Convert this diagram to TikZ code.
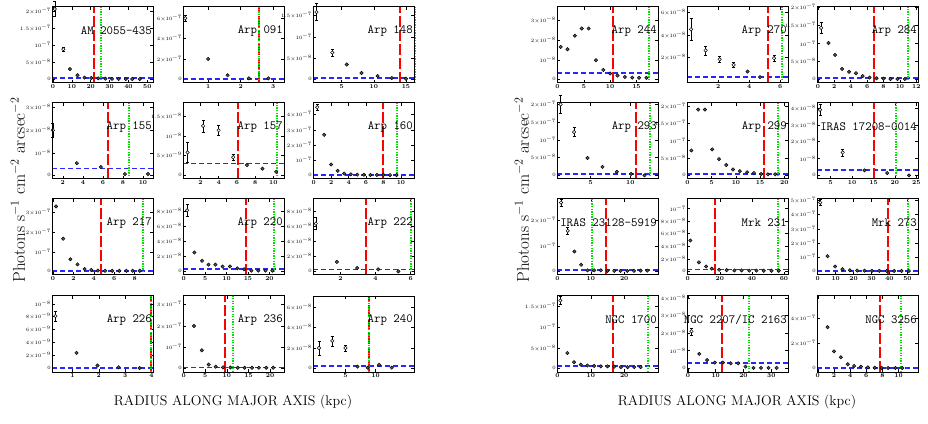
\documentclass[tikz,border=0pt]{standalone}
\usepackage{tikz}
\definecolor{lgreen}{RGB}{0,225,0}

% one panel: left, bottom, xmin, xmax, ymax
\newcommand\pnl[5]{%
  \def\pxa{#3}\def\pxb{#4}\def\pyt{#5}\pgfmathsetmacro\pyb{-0.05*#5}%
  \begin{scope}[shift={(#1,#2)},x={({101/((#4)-(#3))*1pt},0pt)},y={(0pt,{76/(1.05*(#5))*1pt})},shift={({-(#3)},{0.05*(#5)})}]}
\newcommand\pnlend{\draw[frm] (\pxa,\pyb) rectangle (\pxb,\pyt);\end{scope}}
\newcommand\xtk[1]{\foreach \v in {#1}{%
  \draw[tk] (\v,\pyb) -- ++(0pt,3pt); \draw[tk] (\v,\pyt) -- ++(0pt,-3pt);
  \node[xtl] at (\v,\pyb) {\v};}}
\newcommand\ytk[1]{\foreach \v/\l in {#1}{%
  \draw[tk] (\pxa,\v) -- ++(3pt,0pt); \draw[tk] (\pxb,\v) -- ++(-3pt,0pt);
  \node[ytl] at (\pxa,\v) {$\l$};}}
\newcommand\tenp[2]{#1{\times}10^{-#2}}
\newcommand\tenq[1]{10^{-#1}}
\newcommand\rdl[1]{\draw[redl] (#1,\pyb) -- (#1,\pyt);}
\newcommand\grl[1]{\draw[grnl] (#1,\pyb) -- (#1,\pyt);}
\newcommand\bll[1]{\draw[blul] (\pxa,#1) -- (\pxb,#1);}
\newcommand\pts[1]{\foreach \a/\b in {#1}{\draw[pt] (\a,\b) circle (1.7pt);}}
\newcommand\ebs[1]{\foreach \a/\b/\c in {#1}{%
  \draw[eb] ([xshift=-1.5pt]\a,\b-\c) -- ++(3pt,0pt) ([xshift=-1.5pt]\a,\b+\c) -- ++(3pt,0pt);
  \draw[eb] (\a,\b-\c) -- (\a,\b+\c);
  \draw[opt] (\a,\b) circle (1.7pt);}}
\newcommand\lab[2]{\node[lab] (#1) at (\pxb,\pyt) {#2};}

\begin{document}
\begin{tikzpicture}[x=1pt,y=1pt,
  frm/.style={line width=1pt},
  tk/.style={line width=0.5pt},
  xtl/.style={anchor=north,inner sep=1pt,font=\fontsize{6}{6}\selectfont\bfseries},
  ytl/.style={anchor=east,inner sep=1pt,font=\fontsize{5}{5}\selectfont},
  redl/.style={draw=red,line width=2pt,dash pattern=on 11pt off 3pt},
  grnl/.style={draw=lgreen,line width=2pt,dash pattern=on 1.3pt off 1.3pt},
  blul/.style={draw=blue!85,line width=1.8pt,dash pattern=on 5pt off 3pt},
  pt/.style={fill=black!65,draw=black,line width=0.5pt},
  opt/.style={fill=white,draw=black,line width=0.5pt},
  eb/.style={line width=0.5pt},
  lab/.style={anchor=east,xshift=-1pt,yshift=-24pt,inner sep=0pt,font=\fontsize{12.5}{12.5}\selectfont\ttfamily},
  ttl/.style={font=\fontsize{14}{14}\selectfont},
  ylb/.style={rotate=90,font=\fontsize{17}{17}\selectfont}]
\useasboundingbox (0,0) rectangle (928,423);

% ---- left block ----
\pnl{52}{340}{-0.5}{53}{21.1}
\xtk{0,10,20,30,40,50}\ytk{0/0,5/\tenp{5}{8},10/\tenq{7},15/\tenp{1.5}{7},20/\tenp{2}{7}}
\bll{0.4}\rdl{22}\grl{25.6}
\pts{9/3,13/1.2,16.7/0.5,20.3/0.4,24/0.3,27.8/0.2,31.3/0.15,34.8/0.1,38.6/0.1,42/0.1,46/0.1}
\ebs{1/20.5/2.2,5.5/8.8/0.6}
\lab{p1}{AM 2055-435}
\pnlend

\pnl{183}{340}{0.23}{3.33}{71}
\xtk{1,2,3}\ytk{0/0,20/\tenp{2}{7},40/\tenp{4}{7},60/\tenp{6}{7}}
\bll{0.5}\rdl{2.55}\grl{2.55}
\pts{1.0/20,1.6/4,2.25/1,2.85/1}
\ebs{0.3/60/3}
\lab{p2}{Arp 091}
\pnlend

\pnl{313}{340}{0.56}{16.25}{17}
\xtk{5,10,15}\ytk{0/0,5/\tenp{5}{8},10/\tenq{7},15/\tenp{1.5}{7}}
\bll{0.3}\rdl{14}\grl{16.4}
\pts{5.8/3.5,8.1/1.5,10.6/0.8,12.8/0.3,15/0.15}
\ebs{1.1/15.8/2,3.55/6.3/0.8}
\lab{p3}{Arp 148}
\pnlend

\pnl{52}{244}{0.92}{11}{32}
\xtk{2,4,6,8,10}\ytk{0/0,10/\tenq{8},20/\tenp{2}{8},30/\tenp{3}{8}}
\bll{3}\rdl{6.5}\grl{8.6}
\pts{3.4/5.4,5.8/3.7,8.2/0.6,10.5/0.6}
\ebs{1.0/20/3}
\lab{p4}{Arp 155}
\pnlend

\pnl{183}{244}{0.1}{11.16}{18.3}
\xtk{2,4,6,8,10}\ytk{0/0,5/\tenp{5}{9},10/\tenq{8},15/\tenp{1.5}{8}}
\bll{3}\rdl{6.1}\grl{10.4}
\pts{7.1/2.6,8.8/1.7,10.3/0.9}
\ebs{0.6/5.8/2.5,2.3/12.5/1.5,4.0/11.4/1.2,5.6/4.6/0.7}
\lab{p5}{Arp 157}
\pnlend

\pnl{313}{244}{-0.08}{11.5}{47.7}
\xtk{0,2,4,6,8,10}\ytk{0/0,10/\tenq{7},20/\tenp{2}{7},30/\tenp{3}{7},40/\tenp{4}{7}}
\bll{0.5}\rdl{7.9}\grl{9.5}
\pts{1.2/26.7,2.0/7.2,2.75/3.0,3.5/1.2,4.25/0.7,5/0.5,5.75/0.4,6.5/0.3,7.25/0.3,8/0.3,8.75/0.2,9.5/0.2}
\ebs{0.4/44.9/2}
\lab{p6}{Arp 160}
\pnlend

\pnl{52}{148}{-0.1}{9.8}{37}
\xtk{0,2,4,6,8}\ytk{0/0,10/\tenq{7},20/\tenp{2}{7},30/\tenp{3}{7}}
\bll{0.3}\rdl{4.7}\grl{8.8}
\pts{0.3/33.2,1.0/16.7,1.7/6.2,2.4/3.6,3.1/1.2,3.75/0.7,4.4/0.4,5.1/0.3,5.8/0.3,6.5/0.3,7.2/0.3,7.8/0.3,8.5/0.3}
\lab{p7}{Arp 217}
\pnlend

\pnl{183}{148}{-0.15}{23.4}{96}
\xtk{0,5,10,15,20}\ytk{0/0,20/\tenp{2}{8},40/\tenp{4}{8},60/\tenp{6}{8},80/\tenp{8}{8}}
\bll{3}\rdl{14.6}\grl{21.1}
\pts{2.5/25,4.3/14,5.8/9,7.4/9,9.1/6.5,10.8/6.5,12.5/4,14.1/2.8,15.8/1,17.4/1,19.1/1,20.7/1}
\ebs{0.8/81/8}
\lab{p8}{Arp 220}
\pnlend

\pnl{313}{148}{0.44}{6.19}{97}
\xtk{2,4,6}\ytk{0/0,20/\tenp{2}{8},40/\tenp{4}{8},60/\tenp{6}{8},80/\tenp{8}{8}}
\bll{2.5}\rdl{3.47}\grl{6.0}
\pts{1.8/12.7,2.95/4.5,4.15/2.7,5.3/0}
\ebs{0.6/64/8}
\lab{p9}{Arp 222}
\pnlend

\pnl{52}{51}{0.22}{4.06}{11.2}
\xtk{1,2,3,4}\ytk{0/0,2/\tenp{2}{9},4/\tenp{4}{9},6/\tenp{6}{9},8/\tenp{8}{9},10/\tenq{8}}
\bll{0.1}\rdl{3.97}\grl{4.0}
\pts{1.15/2.4,1.95/0.45,2.75/0.17,3.55/0.05}
\ebs{0.35/8.1/0.8}
\lab{p10}{Arp 226}
\pnlend

\pnl{183}{51}{-0.15}{23.2}{34}
\xtk{0,5,10,15,20}\ytk{0/0,10/\tenq{7},20/\tenp{2}{7},30/\tenp{3}{7}}
\bll{0.4}\rdl{9.6}\grl{11.3}
\pts{2.4/19.9,4.2/8.5,5.8/1.8,7.4/0.8,9.1/0.5,10.8/0.4,12.5/0.3,14.1/0.3,15.8/0.3,17.4/0.3,19.1/0.3,20.7/0.3}
\lab{p11}{Arp 236}
\pnlend

\pnl{313}{51}{-0.4}{16.4}{71}
\xtk{5,10}\ytk{0/0,20/\tenp{2}{8},40/\tenp{4}{8},60/\tenp{6}{8}}
\bll{2.7}\rdl{8.9}\grl{8.9}
\pts{7.0/1.7,8.7/0.7,10.6/3.4,12.7/0.7}
\ebs{0.6/20/7,2.8/27/5,5.0/20/3}
\lab{p12}{Arp 240}
\pnlend

% ---- right block ----
\pnl{557}{340}{-0.1}{19.1}{37}
\xtk{0,5,10,15}\ytk{0/0,10/\tenq{8},20/\tenp{2}{8},30/\tenp{3}{8}}
\bll{3.3}\rdl{10.5}\grl{17.3}
\pts{0.6/16.6,1.9/15.4,3.3/22.3,4.6/26,5.9/26,7.3/9.8,8.7/4.8,10/3,11.4/2,12.8/1.2,14.2/0.9,15.5/0.8,16.9/0.8}
\lab{p13}{Arp 244}
\pnlend

\pnl{687}{340}{0}{6.5}{65}
\xtk{2,4,6}\ytk{20/\tenp{2}{8},40/\tenp{4}{8},60/\tenp{6}{8}}
\bll{1.8}\rdl{5.2}\grl{6.1}
\pts{3.9/7,4.7/2}
\ebs{0.26/45/10,1.2/26/4,2.1/18/3,3.0/13/2,5.6/19/3}
\lab{p14}{Arp 270}
\pnlend

\pnl{817}{340}{-0.1}{12.2}{20.1}
\xtk{0,2,4,6,8,10,12}\ytk{0/0,5/\tenp{5}{8},10/\tenq{7},15/\tenp{1.5}{7},20/\tenp{2}{7}}
\bll{0.3}\rdl{6.8}\grl{11}
\pts{1.3/10.1,2.1/6.8,2.95/2.9,3.8/2.1,4.65/1.7,5.45/0.9,6.3/0.5,7.15/0.3,8/0.2,8.85/0.1,9.7/0.1,10.6/0.1}
\ebs{0.4/14.3/1.5}
\lab{p15}{Arp 284}
\pnlend

\pnl{557}{244}{0.75}{13.5}{20.4}
\xtk{5,10}\ytk{0/0,5/\tenp{5}{8},10/\tenq{7},15/\tenp{1.5}{7},20/\tenp{2}{7}}
\bll{0.4}\rdl{10.75}\grl{12.5}
\pts{4.6/4.9,6.5/2.4,8.3/1,10.1/0.4,11.8/0}
\ebs{1.2/20/2.5,2.9/12.2/1.3}
\lab{p16}{Arp 293}
\pnlend

\pnl{687}{244}{-0.1}{20.75}{20.9}
\xtk{0,5,10,15,20}\ytk{0/0,5/\tenp{5}{8},10/\tenq{7},15/\tenp{1.5}{7},20/\tenp{2}{7}}
\bll{0.3}\rdl{15.8}\grl{18.7}
\pts{0.8/7.2,2.2/19,3.6/19,5.1/7.5,6.5/4.7,8/3,9.4/1.7,10.8/1.2,12.3/0.9,13.7/0.7,15.2/0.4,16.6/0.3,18.1/0.3}
\lab{p17}{Arp 299}
\pnlend

\pnl{817}{244}{1.8}{25.4}{43}
\xtk{5,10,15,20,25}\ytk{0/0,10/\tenq{8},20/\tenp{2}{8},30/\tenp{3}{8},40/\tenp{4}{8}}
\bll{3}\rdl{15.2}\grl{20.3}
\pts{12.9/3,18.2/1.4,23.3/0}
\ebs{2.5/39/3,7.8/13.6/2}
\lab{p18}{IRAS 17208-0014}
\pnlend

\pnl{557}{148}{-0.1}{30.1}{28.4}
\xtk{0,10,20}\ytk{0/0,10/\tenq{7},20/\tenp{2}{7}}
\bll{0.5}\rdl{14.5}\grl{10.4}
\pts{5.1/7.8,7.1/2.6,9/0.4,11/0.4,13/0.4,15/0.2,17/0.2,18.9/0.2,20.9/0.2,22.9/0.2,24.9/0.3,26.9/0.3}
\ebs{1.1/27/1.4,3.1/15.9/1.3}
\lab{p19}{IRAS 23128-5919}
\pnlend

\pnl{687}{148}{-0.4}{62.5}{115}
\xtk{0,20,40,60}\ytk{0/0,20/\tenp{2}{8},40/\tenp{4}{8},60/\tenp{6}{8},80/\tenp{8}{8},100/\tenq{7}}
\bll{3}\rdl{17.1}\grl{56.3}
\pts{1.7/49,7/14.3,11.5/7.7,15/4.4,19.6/2.5,24.3/2,29.1/1.5,33.6/1.5,38.4/1.2,42.9/1.2,47.4/1,52.2/1,56.7/1}
\lab{p20}{Mrk 231}
\pnlend

\pnl{817}{148}{-0.4}{55.9}{51}
\xtk{0,10,20,30,40,50}\ytk{0/0,10/\tenq{7},20/\tenp{2}{7},30/\tenp{3}{7},40/\tenp{4}{7},50/\tenp{5}{7}}
\bll{0.3}\rdl{38.9}\grl{50.4}
\pts{5.5/10.7,9.7/3.4,13.8/1.5,17.9/0.8,22/0.6,26.1/0.5,30.2/0.4,34.3/0.4,38.5/0.3,42.6/0.3,46.7/0.3,50.8/0.3}
\ebs{1.4/48.5/2}
\lab{p21}{Mrk 273}
\pnlend

\pnl{557}{51}{-0.1}{30.1}{17.6}
\xtk{0,10,20}\ytk{0/0,5/\tenp{5}{8},10/\tenq{7},15/\tenp{1.5}{7}}
\bll{0.5}\rdl{16.5}\grl{27.2}
\pts{3/3.75,5/1.5,7/0.9,9/0.7,11/0.6,13/0.5,15/0.5,17/0.4,19/0.3,21/0.3,23/0.3,24.9/0.3}
\ebs{0.9/16.5/1}
\lab{p22}{NGC 1700}
\pnlend

\pnl{687}{51}{-0.3}{36}{41}
\xtk{0,10,20,30}\ytk{0/0,10/\tenq{8},20/\tenp{2}{8},30/\tenp{3}{8},40/\tenp{4}{8}}
\bll{2.9}\rdl{12.2}\grl{22}
\pts{4.1/8.2,6.9/4.7,9.7/3.3,12.6/3.3,15.4/2.9,18.1/2.9,20.7/1,23.6/0.3,26.3/0.3,29/0.3,31.9/0.3}
\ebs{1.3/21/2}
\lab{p23}{NGC 2207/IC 2163}
\pnlend

\pnl{817}{51}{-0.1}{12.4}{58}
\xtk{0,2,4,6,8,10}\ytk{0/0,20/\tenp{2}{7},40/\tenp{4}{7}}
\bll{0.3}\rdl{7.7}\grl{10.3}
\pts{1.2/33,2/13.6,2.85/8.9,3.7/3.3,4.5/1.9,5.35/1.4,6.2/0.8,7.05/0.5,7.9/0.4,8.7/0.3,9.6/0.3,10.45/0.3}
\lab{p24}{NGC 3256}
\pnlend

% axis titles
\node[ttl] (xl) at (233,21) {RADIUS ALONG MAJOR AXIS (kpc)};
\node[ttl] (xr) at (737,21) {RADIUS ALONG MAJOR AXIS (kpc)};
\node[ylb] (yl) at (18,233) {Photons s$^{-1}$ cm$^{-2}$ arcsec$^{-2}$};
\node[ylb] (yr) at (522,233) {Photons s$^{-1}$ cm$^{-2}$ arcsec$^{-2}$};

\end{tikzpicture}
\end{document}
